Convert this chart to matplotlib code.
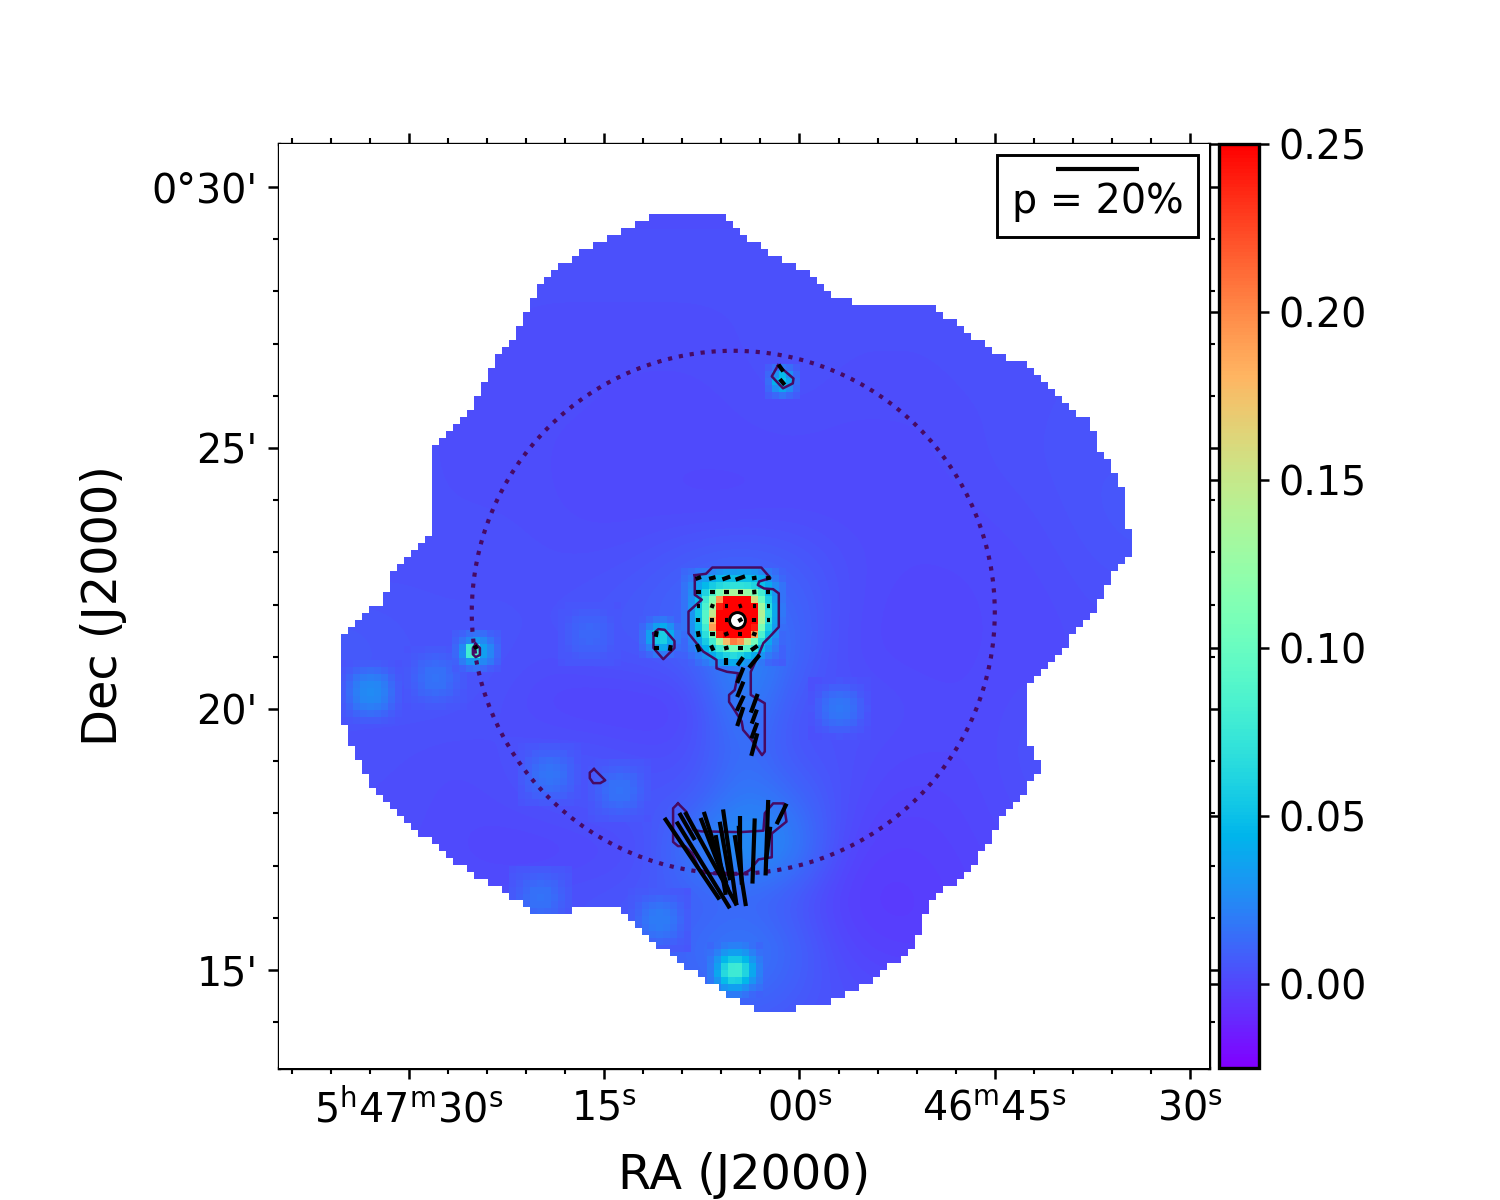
import numpy as np
import matplotlib
matplotlib.use("Agg")
import matplotlib.pyplot as plt
from matplotlib.patches import Circle, Rectangle
from matplotlib.path import Path
from matplotlib.cm import ScalarMappable
from matplotlib.colors import Normalize
from matplotlib.ticker import FixedLocator

# -----------------------------
# Map data (values in 1e-3 of the colour scale, x/y in map cells)
# -----------------------------
# diffuse emission, coarse grid, north at the top
diffuse = [
    [2, 2, 2, 2, 2, 2, 2, 2, 2, 2, 2, 2, 2, 2, 2, 2, 2, 2, 2],
    [3, 3, 3, 3, 3, 3, 3, 3, 3, 3, 3, 3, 3, 3, 3, 3, 3, 3, 3],
    [3, 3, 3, 3, 3, 3, 3, 3, 3, 3, 3, 3, 3, 3, 3, 3, 3, 3, 3],
    [3, 3, 3, 3, 3, 3, 3, 3, 3, 3, 3, 3, 3, 3, 3, 4, 4, 4, 4],
    [3, 3, 3, 3, 3, 2, 2, 2, 2, 3, 4, 3, 3, 3, 4, 4, 4, 4, 4],
    [3, 3, 3, 3, 2, 2, 2, 1, 1, 2, 3, 2, 2, 2, 3, 4, 4, 4, 4],
    [3, 3, 3, 3, 2, 2, 1, 1, 1, 1, 1, 1, 1, 2, 3, 4, 5, 5, 5],
    [3, 3, 3, 3, 3, 2, 1, 1, 0, 0, 1, 1, 1, 1, 2, 3, 5, 6, 6],
    [3, 3, 3, 3, 4, 3, 3, 4, 8, 10, 7, 3, 1, 1, 1, 2, 4, 5, 5],
    [5, 5, 5, 4, 4, 4, 5, 8, 12, 14, 12, 3, 0, 0, 1, 1, 3, 3, 3],
    [8, 8, 5, 5, 5, 3, 6, 6, 10, 30, 12, 2, 0, 0, 1, 1, 2, 3, 3],
    [5, 5, 5, 5, 3, -1, -3, -2, -1, 26, 4, 4, 3, 1, 1, 3, 3, 3, 3],
    [4, 3, 3, 2, 3, 5, 5, 2, 3, 16, 4, 4, 1, 1, 1, 5, 5, 5, 5],
    [3, 3, 3, 1, 2, 5, 6, 6, 6, 22, 14, 3, -1, -1, 1, 3, 3, 3, 3],
    [2, 2, 2, 1, -1, -2, 0, 2, 22, 35, 24, 0, -3, -2, 0, 2, 2, 2, 2],
    [2, 2, 2, 2, 3, 5, 5, 6, 8, 9, 5, -3, -5, -3, -1, 1, 2, 2, 2],
    [2, 2, 2, 2, 2, 2, 3, 8, 14, 22, 12, 0, -3, -3, 0, 1, 2, 2, 2],
    [3, 3, 3, 3, 3, 3, 3, 6, 10, 14, 8, 3, 2, 2, 2, 3, 3, 3, 3],
    [3, 3, 3, 3, 3, 3, 3, 3, 3, 3, 3, 3, 3, 3, 3, 3, 3, 3, 3],
]

# central source, one value per map cell
core = [
    [12, 14, 18, 20, 24, 28, 32, 32, 34, 34, 30, 24, 18, 14, 10],
    [14, 18, 28, 34, 40, 46, 50, 50, 50, 50, 46, 40, 28, 18, 12],
    [16, 24, 36, 46, 56, 64, 68, 70, 70, 68, 62, 50, 40, 26, 16],
    [16, 26, 42, 60, 85, 110, 130, 135, 135, 125, 110, 80, 50, 30, 16],
    [16, 28, 48, 78, 115, 195, 250, 250, 250, 250, 160, 100, 58, 34, 16],
    [16, 30, 52, 85, 130, 240, 250, 250, 250, 250, 250, 130, 66, 38, 18],
    [16, 30, 54, 90, 150, 250, 250, 250, 250, 250, 250, 140, 70, 38, 18],
    [16, 30, 52, 90, 175, 250, 250, 250, 250, 250, 250, 135, 66, 36, 16],
    [16, 28, 50, 80, 190, 250, 250, 250, 250, 250, 240, 110, 58, 32, 14],
    [14, 26, 44, 68, 110, 240, 250, 250, 250, 250, 190, 85, 50, 28, 12],
    [12, 22, 36, 56, 80, 130, 175, 205, 195, 150, 105, 65, 38, 22, 12],
    [12, 18, 28, 44, 60, 78, 95, 105, 100, 90, 72, 48, 28, 18, 10],
    [10, 14, 20, 28, 40, 52, 60, 66, 60, 50, 40, 30, 20, 14, 10],
    [8, 10, 14, 18, 24, 32, 36, 40, 36, 30, 24, 18, 12, 10, 8],
]
core_corner = (57.43, 57.43)

south_src = [
    [12, 15, 20, 22, 22, 20, 15, 12],
    [15, 22, 30, 35, 35, 30, 22, 15],
    [18, 30, 45, 55, 55, 45, 30, 20],
    [20, 35, 60, 76, 78, 60, 38, 22],
    [20, 38, 65, 78, 78, 62, 38, 22],
    [18, 30, 48, 60, 58, 45, 30, 20],
    [14, 22, 30, 35, 35, 28, 20, 15],
    [10, 14, 18, 20, 20, 16, 12, 10],
]
south_corner = (61.1, 10.0)

west_src = [
    [8, 10, 14, 16, 14, 10, 8],
    [10, 16, 25, 32, 25, 16, 10],
    [12, 26, 80, 75, 35, 24, 12],
    [12, 28, 80, 85, 35, 24, 12],
    [10, 20, 30, 35, 25, 18, 10],
    [8, 10, 14, 16, 12, 8, 6],
]
west_corner = (24.71, 56.57)

north_src = [
    [8, 14, 18, 14, 8],
    [12, 28, 48, 28, 12],
    [14, 42, 52, 38, 14],
    [12, 28, 38, 26, 12],
    [8, 12, 16, 12, 8],
]
north_corner = (69.43, 95.57)

blob_src = [
    [8, 12, 16, 18, 14, 10],
    [12, 22, 35, 40, 28, 14],
    [14, 35, 55, 58, 40, 18],
    [14, 35, 55, 58, 40, 18],
    [12, 22, 35, 38, 26, 14],
    [8, 12, 18, 18, 14, 10],
]
blob_corner = (51.43, 58.57)

# faint clumps: centre, peak and local level, all with the same profile
faint_x = [13.1, 22.3, 44.4, 38.7, 48.7, 80.1, 54.4, 37.3]
faint_y = [53.7, 55.7, 61.9, 41.9, 39.7, 51.4, 21.1, 24.3]
faint_peak = [26, 16, 12, 17, 16, 18, 20, 16]
faint_level = [5, 5, 5, 5, 5, 3, 6, 5]
faint_profile = [
    [0.00, 0.03, 0.08, 0.12, 0.14, 0.12, 0.08, 0.03, 0.00],
    [0.03, 0.14, 0.28, 0.38, 0.42, 0.38, 0.28, 0.14, 0.03],
    [0.08, 0.28, 0.52, 0.68, 0.74, 0.68, 0.52, 0.28, 0.08],
    [0.12, 0.38, 0.68, 0.90, 0.96, 0.90, 0.68, 0.38, 0.12],
    [0.14, 0.42, 0.74, 0.96, 1.00, 0.96, 0.74, 0.42, 0.14],
    [0.12, 0.38, 0.68, 0.90, 0.96, 0.90, 0.68, 0.38, 0.12],
    [0.08, 0.28, 0.52, 0.68, 0.74, 0.68, 0.52, 0.28, 0.08],
    [0.03, 0.14, 0.28, 0.38, 0.42, 0.38, 0.28, 0.14, 0.03],
    [0.00, 0.03, 0.08, 0.12, 0.14, 0.12, 0.08, 0.03, 0.00],
]

# survey footprint
foot_x = [53.4, 63.3, 64.4, 66.4, 68.4, 72.4, 74.4, 76.4, 79.4, 83.3, 94.1, 96.1, 99, 103, 107, 109, 113,
          115.9, 117, 119, 121, 121, 122, 122, 119, 118, 115, 111, 107, 107, 108, 109, 109, 103, 103, 99,
          93, 91, 88, 83, 79.4, 72, 68.4, 65.6, 61.6, 57.3, 53, 48.7, 42.3, 42.3, 36.6, 31.6, 27.3, 23,
          17.3, 14.4, 11.6, 9.9, 8.9, 8.9, 14.4, 16.6, 18, 21.6, 21.7, 27.3, 29.7, 33.7, 36.6, 38.7, 43, 48.7]
foot_y = [122.1, 122.1, 120.9, 119.7, 117.9, 115.7, 114.7, 113.7, 110.4, 109.4, 109.1, 107.1, 105.1, 101.9,
          100.9, 98.3, 95.1, 92.6, 89.7, 86.1, 82.6, 77.6, 77.3, 73.6, 70.4, 66.9, 63.3, 58, 54, 47.6, 44.7,
          44.7, 41.9, 35.4, 34, 28.3, 23.3, 16.9, 14.7, 11.1, 9.3, 8, 8, 9.3, 11.9, 14.7, 18.3, 22.6, 22.9,
          21.9, 21.9, 25.4, 27.6, 31.1, 35.4, 38.3, 42.6, 46.9, 49, 61.9, 66.9, 71.9, 73.3, 76.1, 89, 94.7,
          99.7, 105.4, 111.1, 114, 116.9, 119.7]

# intensity contours
contour_main_x = [59.4, 61, 61.9, 68.9, 70.2, 68.6, 68.4, 69.3, 70.6, 71.4, 71.4, 70.1, 69.2, 68.5, 67.4, 67.4, 69.4,
                  69.4, 69, 67.5, 66.3, 66.1, 64.9, 64.3, 64.3, 65.1, 65.6, 64, 62.5, 62.5, 60.6, 58.5, 58.5, 60.4, 59.4, 59.4]
contour_main_y = [70.4, 70.6, 71.5, 71.5, 70, 69.5, 69, 68.5, 68.4, 67.8, 63, 61.6, 60.7, 59, 56.6, 53.3, 52.1,
                  45.2, 44.7, 46.9, 48.3, 49.5, 51.4, 52.3, 53.3, 54, 56.4, 56.6, 57.1, 58.3, 59.5, 62.1, 65.2, 66.9, 67.6, 70.4]
contour_blob_x = [53.5, 54.2, 55.1, 56.5, 56.5, 54.9, 53.5, 53.5]
contour_blob_y = [62.1, 62.7, 62.6, 61, 60, 58.4, 60, 62.1]
contour_west_x = [28.1, 28.7, 28.7, 28.1, 27.7, 27.7, 28.1]
contour_west_y = [60.6, 60, 59, 58.7, 59.1, 60, 60.6]
contour_arc_x = [45, 46.6, 45.9, 44.9, 44.4, 44.4, 45]
contour_arc_y = [42.7, 41.1, 40.7, 40.7, 41.4, 42.2, 42.7]
contour_north_x = [71.3, 73.5, 73.4, 72, 70.4, 71.3]
contour_north_y = [100.4, 98.5, 97.8, 97.1, 98.8, 100.4]
contour_south_x = [57, 58.2, 59.2, 60.4, 65.9, 69.2, 69.4, 70.6, 72.1, 72.5, 70.4, 70.4, 68.5, 67.3, 66.3, 61.6, 60.1, 59, 58, 57, 56.3, 56.3, 57]
contour_south_y = [37.8, 36.6, 34, 33.8, 33.7, 33.9, 36.4, 37.8, 37.8, 35.2, 33.5, 30.1, 29.8, 28.3, 27.7, 27.8, 28.3, 30.7, 31.7, 31.7, 32.3, 37.1, 37.8]

# polarization vectors: position, p [%], angle from north [deg]
vec_x = [59.9, 61.9, 63.9, 65.9, 67.9, 69.9,
         59.9, 61.9, 63.9, 65.9, 67.9, 69.9,
         59.9, 61.9, 63.9, 65.9, 67.9, 69.9,
         59.9, 61.9, 63.9, 65.9, 67.9, 69.9,
         59.9, 61.9, 63.9, 65.9, 67.9,
         59.9, 61.9, 63.9, 65.9, 67.9,
         63.9, 65.9, 67.9, 65.9, 65.9, 65.9, 65.9, 67.9, 67.9, 67.9, 67.9,
         53.9, 53.9, 55.9, 71.7, 71.9, 28.1,
         59.0, 60.6, 58.3, 61.7, 62.2, 62.3, 63.1, 63.7, 64.4, 65.9, 65.9, 65.9, 67.8, 69.7, 69.9, 71.8]
vec_y = [70, 70, 70, 70, 70, 70,
         68, 68, 68, 68, 68, 68,
         66, 66, 66, 66, 66, 66,
         64, 64, 64, 64, 64, 64,
         62, 62, 62, 62, 62,
         60, 60, 60, 60, 60,
         58.1, 58.1, 58.1, 56.1, 54.1, 52.1, 50.2, 52.1, 50.2, 48.2, 46.2,
         62, 60, 60, 100, 98, 60.1,
         29.9, 29, 34.5, 29.9, 30.6, 31.5, 29, 31, 30.1, 28.2, 30.4, 32.4, 31, 32.9, 32.2, 36.3]
vec_p = [1.4, 1.6, 2, 2.4, 1.1, 1.1,
         1.1, 1.1, 1.1, 1.1, 1.1, 1,
         0.6, 1, 0.8, 0.8, 0.6, 0.8,
         1, 1, 0.6, 1.1, 1, 0.8,
         1.4, 1.1, 1.1, 1, 1.1,
         1.9, 1.4, 1.1, 1.1, 1.9,
         1.6, 2.4, 4, 4, 4, 4, 4.8, 4.8, 3.6, 4, 5.6,
         1.4, 1.1, 1.4, 2, 1.8, 1.1,
         23.7, 24.5, 7.5, 25.7, 18.5, 18, 14.6, 14.3, 23.3, 17.3, 14.2, 12.2, 15.7, 18.2, 7.7, 5.5]
vec_pa = [-70, -75, -70, -70, -80, -80,
          90, 90, 90, 90, 5, 90,
          90, 70, 90, -70, 90, 90,
          0, 90, 90, -60, 0, 90,
          10, 90, -70, 90, 70,
          20, 25, -75, 90, -55,
          0, -35, -40, -22, -22, -25, -18, -20, -20, -20, -15,
          -10, 90, -10, 35, 40, -60,
          34, 31.6, 30, 29, 21, 17.5, 9.5, 10, 8, 9, 3, 0, -2, -2, -7, -26]

# -----------------------------
# Axis scales
# -----------------------------
ra_major_sec = [90, 75, 60, 45, 30]
ra_labels = [r"$5^{\mathrm{h}}47^{\mathrm{m}}30^{\mathrm{s}}$", r"$15^{\mathrm{s}}$", r"$00^{\mathrm{s}}$",
             r"$46^{\mathrm{m}}45^{\mathrm{s}}$", r"$30^{\mathrm{s}}$"]
dec_major_min = [30, 25, 20, 15]
dec_labels = ["0°30'", "25'", "20'", "15'"]
cbar_ticks = [0.0, 0.05, 0.10, 0.15, 0.20, 0.25]

cells_per_sec = 1.8596
cells_per_min = 7.457
xmax, ymax = 132.86, 132.0


def ra_cell(sec):
    return 18.57 + (90 - np.asarray(sec, dtype=float)) * cells_per_sec


def dec_cell(arcmin):
    return 14.0 + (np.asarray(arcmin, dtype=float) - 15) * cells_per_min


cell_per_percent = 0.593
line_col = "#470a63"
vmin, vmax = -0.025, 0.25

# -----------------------------
# Figure
# -----------------------------
fig = plt.figure(figsize=(5, 4), dpi=300)
ax = fig.add_axes([279 / 1500, 0.11, 930 / 1500, 0.77])
cax = fig.add_axes([1218.5 / 1500, 0.11, 40 / 1500, 0.77])

img_kw = dict(cmap="rainbow", vmin=vmin, vmax=vmax, aspect="auto")
ax.imshow(np.array(diffuse) / 1000, extent=(0, xmax, 0, ymax), origin="upper",
          interpolation="bicubic", zorder=1, **img_kw)

profile = np.array(faint_profile)
for fx, fy, peak, level in zip(faint_x, faint_y, faint_peak, faint_level):
    arr = (level + (peak - level) * profile) / 1000
    ax.imshow(arr, extent=(fx - 4.5, fx + 4.5, fy - 4.5, fy + 4.5), origin="upper",
              interpolation="nearest", zorder=1.5, **img_kw)

for patch, corner in [(south_src, south_corner), (west_src, west_corner),
                      (north_src, north_corner), (blob_src, blob_corner), (core, core_corner)]:
    arr = np.array(patch) / 1000
    ny, nx = arr.shape
    ax.imshow(arr, extent=(corner[0], corner[0] + nx, corner[1], corner[1] + ny), origin="upper",
              interpolation="nearest", zorder=2, **img_kw)

# everything outside the footprint is blank; a cell stays only if its inner corners are inside
gx, gy = np.meshgrid(np.arange(1.4, xmax, 1.0), np.arange(0.55, ymax, 1.0))
foot = Path(np.column_stack([foot_x, foot_y]))
inside = np.ones(gx.shape, dtype=bool)
for ox, oy in [(-0.2, -0.2), (-0.2, 0.2), (0.2, -0.2), (0.2, 0.2)]:
    pts = np.column_stack([gx.ravel() + ox, gy.ravel() + oy])
    inside &= foot.contains_points(pts).reshape(gx.shape)
blank = np.ones(inside.shape + (4,))
blank[..., 3] = (~inside).astype(float)
ax.imshow(blank, extent=(0.9, 0.9 + gx.shape[1], 0.05, 0.05 + gx.shape[0]), origin="lower",
          interpolation="nearest", aspect="auto", zorder=3)
# strips left uncovered by the cell grid
ax.add_patch(Rectangle((0, 0), 1.0, ymax, fc="white", ec="none", zorder=3))
ax.add_patch(Rectangle((0, 0), xmax, 0.6, fc="white", ec="none", zorder=3))
ax.add_patch(Rectangle((xmax - 1, 0), 1, ymax, fc="white", ec="none", zorder=3))
ax.add_patch(Rectangle((0, ymax - 1), xmax, 1, fc="white", ec="none", zorder=3))

for cx, cy in [(contour_main_x, contour_main_y), (contour_blob_x, contour_blob_y),
               (contour_west_x, contour_west_y), (contour_arc_x, contour_arc_y),
               (contour_north_x, contour_north_y), (contour_south_x, contour_south_y)]:
    ax.plot(cx, cy, color=line_col, lw=0.6, zorder=4)

ax.add_patch(Circle((64.9, 65.1), 37.36, fc="none", ec=line_col, lw=1.0, ls=":", zorder=4))

ax.plot([65.4], [64], "o", ms=3.8, mfc="white", mec="black", mew=0.7, zorder=5)

for x, y, p, pa in zip(vec_x, vec_y, vec_p, vec_pa):
    half = 0.5 * p * cell_per_percent
    dx = -half * np.sin(np.radians(pa))
    dy = half * np.cos(np.radians(pa))
    ax.plot([x - dx, x + dx], [y - dy, y + dy], color="black", lw=1.0, solid_capstyle="butt", zorder=6)

# scale bar box
ax.add_patch(Rectangle((102.6, 118.66), 28.7, 11.7, fc="white", ec="black", lw=0.7, zorder=7))
ax.plot([111, 122.9], [128.4, 128.4], color="black", lw=1.0, solid_capstyle="butt", zorder=8)
ax.text(117, 123.75, "p = 20%", ha="center", va="center", fontsize=9.5, zorder=8)

ax.set_xlim(0, xmax)
ax.set_ylim(0, ymax)

ax.set_xticks(ra_cell(ra_major_sec))
ax.set_xticklabels(ra_labels)
ax.set_yticks(dec_cell(dec_major_min))
ax.set_yticklabels(dec_labels)
ax.xaxis.set_minor_locator(FixedLocator(ra_cell(np.arange(99, 28, -3))))
ax.yaxis.set_minor_locator(FixedLocator(dec_cell(np.arange(14, 31))))
ax.tick_params(which="major", direction="out", length=2.6, width=0.6, top=True, right=True, labelsize=9.5, pad=2.5)
ax.tick_params(which="minor", direction="out", length=1.5, width=0.5, top=True, right=True)
ax.set_xlabel("RA (J2000)", fontsize=11.5, labelpad=5)
ax.set_ylabel("Dec (J2000)", fontsize=11.5, labelpad=6)
for sp in ax.spines.values():
    sp.set_linewidth(0.8)

cbar = fig.colorbar(ScalarMappable(Normalize(vmin, vmax), "rainbow"), cax=cax, ticks=cbar_ticks)
cbar.ax.set_yticklabels(["%.2f" % t for t in cbar_ticks])
cbar.ax.tick_params(left=True, right=True, direction="out", length=2.4, width=0.6, labelsize=9.5, pad=2.3)
cbar.outline.set_linewidth(0.8)

fig.savefig("out.png", dpi=300)
